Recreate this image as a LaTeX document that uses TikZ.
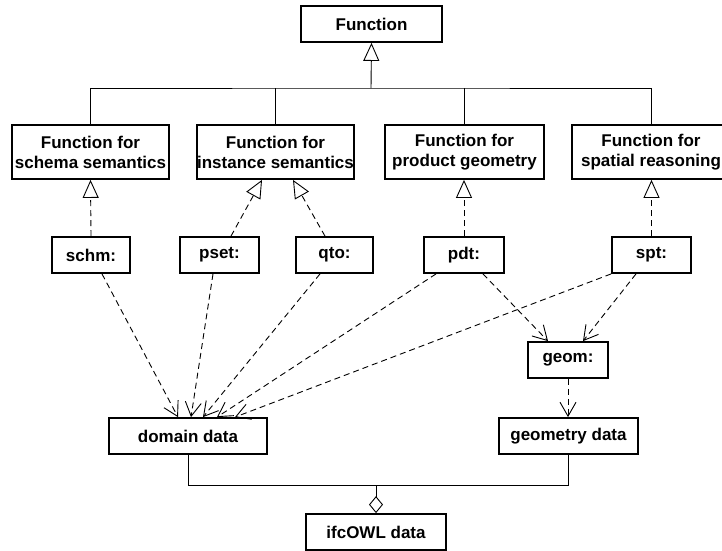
\documentclass[tikz,border=0pt]{standalone}
\usepackage{fontspec}
\setmainfont{Liberation Sans}
\usetikzlibrary{arrows.meta}

\begin{document}
\begin{tikzpicture}[x=1pt,y=-1pt,
    box/.style={draw,line width=1.8pt,font=\bfseries\fontsize{17}{20}\selectfont,
      align=center,minimum height=36pt,inner sep=0pt},
    conn/.style={line width=0.9pt},
    dep/.style={conn,dash pattern=on 6pt off 4pt,-{Straight Barb[length=14pt,width=16pt]}},
    real/.style={conn,dash pattern=on 6pt off 4pt,-{Triangle[open,length=18pt,width=16pt]}},
    gen/.style={conn,-{Triangle[open,length=18pt,width=16pt]}},
    agg/.style={conn,{Diamond[open,length=17pt,width=14pt]}-}]
  \useasboundingbox (0,0) rectangle (722,550);

  % functions
  \node[box,minimum width=141pt] (fn) at (371.5,24) {Function};
  \node[box,minimum width=157pt,minimum height=54pt] (fsch) at (90.5,152) {Function for\\schema semantics};
  \node[box,minimum width=153pt,minimum height=54pt] (finst) at (275.5,152) {Function for\\instance semantics};
  \node[box,minimum width=159pt,minimum height=54pt] (fprod) at (464.5,152) {Function for\\product geometry};
  \node[box,minimum width=158pt,minimum height=54pt] (fspat) at (651,152) {Function for\\spatial reasoning};

  % namespaces
  \node[box,minimum width=78pt] (schm) at (91,255) {schm:};
  \node[box,minimum width=79pt] (pset) at (219.5,255) {pset:};
  \node[box,minimum width=77pt] (qto) at (334.5,255) {qto:};
  \node[box,minimum width=80pt] (pdt) at (464,255) {pdt:};
  \node[box,minimum width=79pt] (spt) at (651.5,255) {spt:};
  \node[box,minimum width=80pt] (geom) at (568,360) {geom:};

  % data
  \node[box,minimum width=158pt] (dd) at (188,436) {domain data};
  \node[box,minimum width=139pt] (gd) at (568.5,436) {geometry data};
  \node[box,minimum width=140pt] (ifc) at (376,532) {ifcOWL data};

  \coordinate (bus) at (371,88);
  \coordinate (join) at (376,485);

  % generalisation
  \draw[conn] (fsch.north) |- (bus) -| (fspat.north);
  \draw[conn] (finst.north) -- (finst.north |- bus);
  \draw[conn] (fprod.north) -- (fprod.north |- bus);
  \draw[gen] (bus) -- (fn.south);

  % realisation
  \draw[real] (schm.north) -- (fsch.south);
  \draw[real] ([xshift=11.5pt]pset.north) -- ([xshift=-13.5pt]finst.south);
  \draw[real] ([xshift=-9.5pt]qto.north) -- ([xshift=17.5pt]finst.south);
  \draw[real] (pdt.north) -- (pdt.north |- fprod.south);
  \draw[real] (spt.north) -- (spt.north |- fspat.south);

  % dependencies
  \draw[dep] ([xshift=11pt]schm.south) -- ([xshift=-10pt]dd.north);
  \draw[dep] ([xshift=-6.5pt]pset.south) -- ([xshift=3pt]dd.north);
  \draw[dep] ([xshift=-14.5pt]qto.south) -- ([xshift=15pt]dd.north);
  \draw[dep] ([xshift=-28pt]pdt.south) -- ([xshift=29pt]dd.north);
  \draw[dep] (spt.south west) -- ([xshift=47pt]dd.north);
  \draw[dep] ([xshift=19pt]pdt.south) -- ([xshift=-20pt]geom.north);
  \draw[dep] ([xshift=-15.5pt]spt.south) -- ([xshift=15pt]geom.north);
  \draw[dep] (geom.south) -- (geom.south |- gd.north);

  % aggregation
  \draw[conn] (dd.south) |- (join) -| (gd.south);
  \draw[agg] (ifc.north) -- (join);
\end{tikzpicture}
\end{document}
